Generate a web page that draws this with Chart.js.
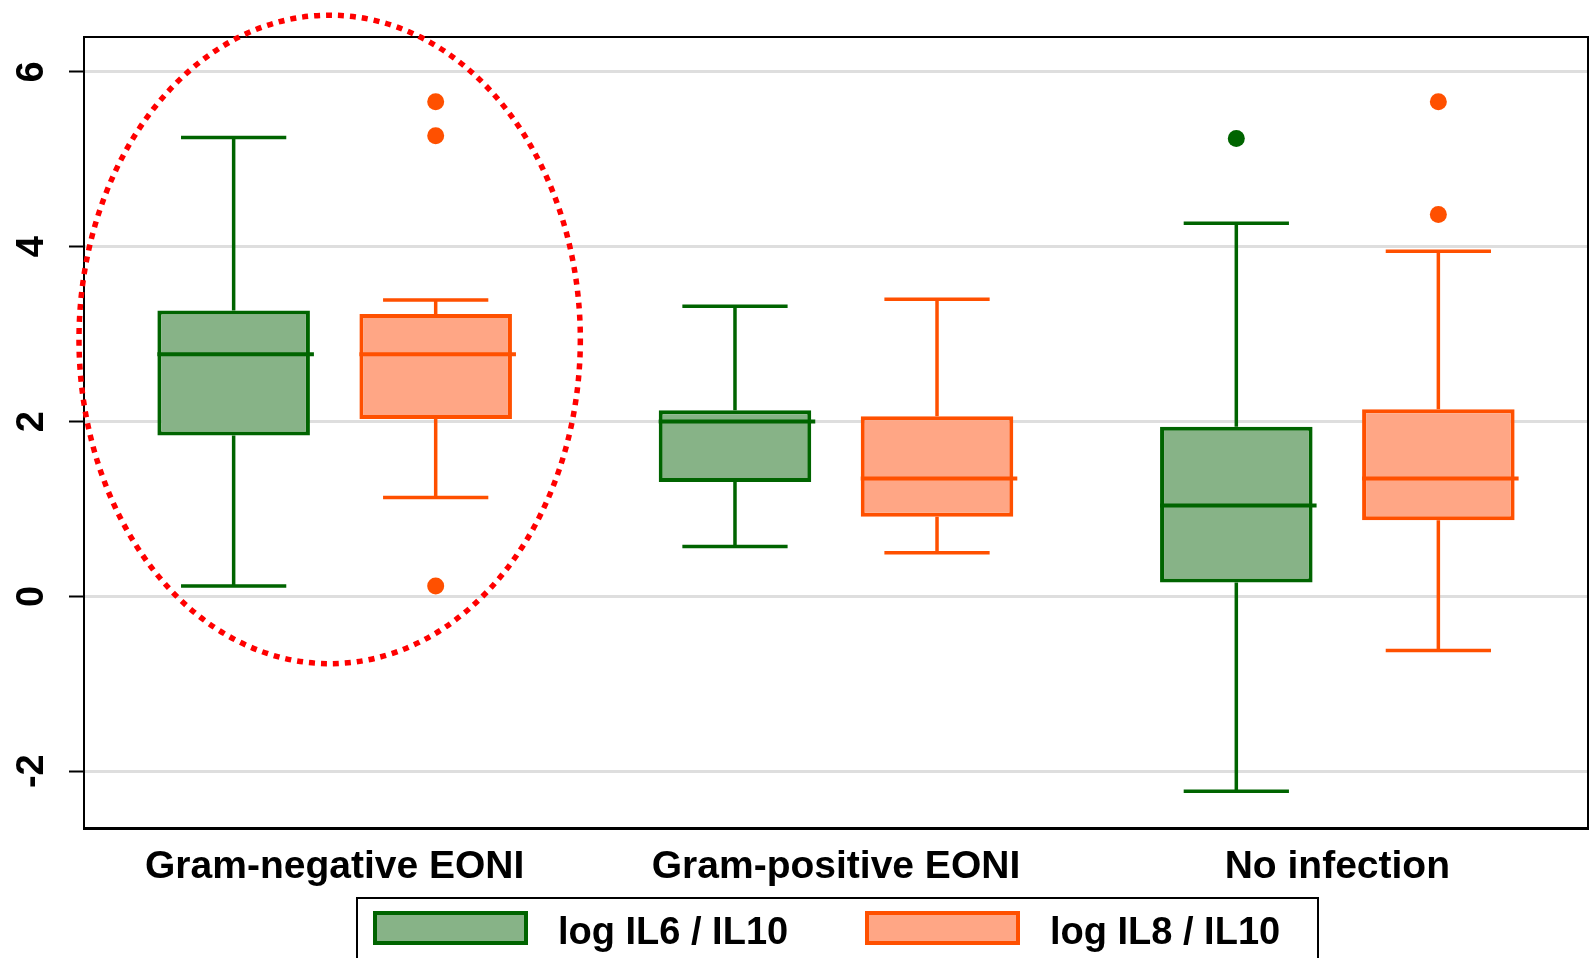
<!DOCTYPE html>
<html>
<head>
<meta charset="utf-8">
<script src="https://cdn.jsdelivr.net/npm/chart.js@4.4.1/dist/chart.umd.min.js"></script>
<style>
html, body { margin: 0; padding: 0; background: #fff; }
#wrap { width: 1590px; height: 958px; }
</style>
</head>
<body>
<div id="wrap"><canvas id="grafico"></canvas></div>
<script>
// Categorias y valores
const categorias = ['Gram-negative EONI', 'Gram-positive EONI', 'No infection'];
const series = ['log IL6 / IL10', 'log IL8 / IL10'];
const ticksY = [-2, 0, 2, 4, 6];

// log IL6 / IL10
const il6Min = [0.12, 0.57, -2.23];
const il6Q1 = [1.84, 1.31, 0.16];
const il6Mediana = [2.77, 2.00, 1.04];
const il6Q3 = [3.27, 2.13, 1.94];
const il6Max = [5.25, 3.32, 4.27];
const il6Atipicos = [[], [], [5.24]];

// log IL8 / IL10
const il8Min = [1.13, 0.50, -0.62];
const il8Q1 = [2.03, 0.91, 0.87];
const il8Mediana = [2.77, 1.35, 1.35];
const il8Q3 = [3.23, 2.06, 2.14];
const il8Max = [3.39, 3.40, 3.95];
const il8Atipicos = [[5.66, 5.27, 0.12], [], [5.66, 4.37]];

// elipse punteada alrededor del primer grupo (en unidades de los ejes)
const elipse = { categoria: 0, centroY: 2.94, radioX: 0.5, radioY: 3.71 };

const verde = '#006400';
const verdeRelleno = '#87B387';
const naranja = '#FF5000';
const naranjaRelleno = '#FFA685';
const fuente = '"Liberation Sans", Arial, sans-serif';

const cajas = [
    { min: il6Min, mediana: il6Mediana, max: il6Max, atipicos: il6Atipicos },
    { min: il8Min, mediana: il8Mediana, max: il8Max, atipicos: il8Atipicos }
];

// bigotes, medianas y puntos atipicos
const bigotesPlugin = {
    id: 'bigotes',
    afterDatasetsDraw(chart) {
        const ctx = chart.ctx;
        const y = chart.scales.y;
        chart.data.datasets.forEach((ds, i) => {
            const meta = chart.getDatasetMeta(i);
            const info = cajas[i];
            meta.data.forEach((bar, j) => {
                const q1 = ds.data[j][0];
                const q3 = ds.data[j][1];
                const x = bar.x;
                const w = bar.width;
                const cap = w * 0.69;
                const yMax = y.getPixelForValue(info.max[j]);
                const yMin = y.getPixelForValue(info.min[j]);
                ctx.save();
                ctx.strokeStyle = ds.borderColor;
                ctx.lineWidth = 3.5;
                ctx.beginPath();
                ctx.moveTo(x, y.getPixelForValue(q3));
                ctx.lineTo(x, yMax);
                ctx.moveTo(x - cap / 2, yMax);
                ctx.lineTo(x + cap / 2, yMax);
                ctx.moveTo(x, y.getPixelForValue(q1));
                ctx.lineTo(x, yMin);
                ctx.moveTo(x - cap / 2, yMin);
                ctx.lineTo(x + cap / 2, yMin);
                ctx.stroke();

                const yMed = y.getPixelForValue(info.mediana[j]);
                ctx.lineWidth = 4;
                ctx.beginPath();
                ctx.moveTo(x - w / 2, yMed);
                ctx.lineTo(x + w / 2 + 4, yMed);
                ctx.stroke();

                ctx.fillStyle = ds.borderColor;
                info.atipicos[j].forEach(v => {
                    ctx.beginPath();
                    ctx.arc(x, y.getPixelForValue(v), 8.5, 0, Math.PI * 2);
                    ctx.fill();
                });
                ctx.restore();
            });
        });
    }
};

// marco, elipse y leyenda con recuadro
const extrasPlugin = {
    id: 'extras',
    afterDraw(chart) {
        const ctx = chart.ctx;
        const area = chart.chartArea;
        const xs = chart.scales.x;
        const ys = chart.scales.y;

        ctx.save();
        ctx.strokeStyle = '#000';
        ctx.lineWidth = 2;
        ctx.beginPath();
        ctx.moveTo(area.left, area.top);
        ctx.lineTo(area.right, area.top);
        ctx.lineTo(area.right, area.bottom);
        ctx.stroke();

        // elipse
        const anchoCat = xs.getPixelForValue(1) - xs.getPixelForValue(0);
        const cx = xs.getPixelForValue(elipse.categoria) - 5;
        const cy = ys.getPixelForValue(elipse.centroY);
        const rx = elipse.radioX * anchoCat;
        const ry = Math.abs(ys.getPixelForValue(elipse.centroY + elipse.radioY) - cy);
        ctx.strokeStyle = '#FF0000';
        ctx.lineWidth = 5.5;
        ctx.setLineDash([6, 6]);
        ctx.beginPath();
        ctx.ellipse(cx, cy, rx, ry, 0, 0, Math.PI * 2);
        ctx.stroke();
        ctx.setLineDash([]);

        // leyenda
        ctx.strokeStyle = '#000';
        ctx.lineWidth = 2;
        ctx.strokeRect(357, 898, 961, 80);
        const items = [
            { x: 373, fill: verdeRelleno, borde: verde },
            { x: 865, fill: naranjaRelleno, borde: naranja }
        ];
        items.forEach((it, i) => {
            ctx.fillStyle = it.fill;
            ctx.fillRect(it.x, 911, 155, 34);
            ctx.strokeStyle = it.borde;
            ctx.lineWidth = 4;
            ctx.strokeRect(it.x + 2, 913, 151, 30);
            ctx.fillStyle = '#000';
            ctx.font = 'bold 38px ' + fuente;
            ctx.textAlign = 'left';
            ctx.textBaseline = 'alphabetic';
            ctx.fillText(chart.data.datasets[i].label, it.x + 185, 944);
        });
        ctx.restore();
    }
};

const data = {
    labels: categorias,
    datasets: [
        {
            label: series[0],
            data: il6Q1.map((v, i) => [v, il6Q3[i]]),
            backgroundColor: verdeRelleno,
            borderColor: verde,
            borderWidth: 4,
            borderSkipped: false
        },
        {
            label: series[1],
            data: il8Q1.map((v, i) => [v, il8Q3[i]]),
            backgroundColor: naranjaRelleno,
            borderColor: naranja,
            borderWidth: 4,
            borderSkipped: false
        }
    ]
};

const config = {
    type: 'bar',
    data: data,
    options: {
        responsive: true,
        maintainAspectRatio: false,
        animation: false,
        categoryPercentage: 0.806,
        barPercentage: 0.755,
        layout: { padding: { top: 37, right: 2, left: 0, bottom: 70 } },
        plugins: {
            legend: { display: false },
            tooltip: { enabled: false }
        },
        scales: {
            x: {
                grid: { display: false, drawTicks: false },
                border: { display: true, color: '#000', width: 3 },
                ticks: {
                    color: '#000',
                    padding: 16,
                    maxRotation: 0,
                    font: { family: fuente, size: 39, weight: 'bold' }
                },
                afterFit: function(scale) { scale.height = 60; }
            },
            y: {
                min: -2.65,
                max: 6.4,
                grid: {
                    color: '#DEDEDE',
                    lineWidth: 3,
                    tickColor: '#000',
                    tickWidth: 2,
                    tickLength: 15
                },
                border: { display: true, color: '#000', width: 2 },
                ticks: {
                    color: '#000',
                    minRotation: 90,
                    maxRotation: 90,
                    crossAlign: 'center',
                    padding: 20,
                    font: { family: fuente, size: 38, weight: 'bold' }
                },
                afterBuildTicks: function(scale) {
                    scale.ticks = ticksY.map(v => ({ value: v }));
                },
                afterFit: function(scale) {
                    scale.width = 84;
                    scale.paddingTop = 0;
                    scale.paddingBottom = 0;
                }
            }
        }
    },
    plugins: [bigotesPlugin, extrasPlugin]
};

new Chart(document.getElementById('grafico'), config);
</script>
</body>
</html>
